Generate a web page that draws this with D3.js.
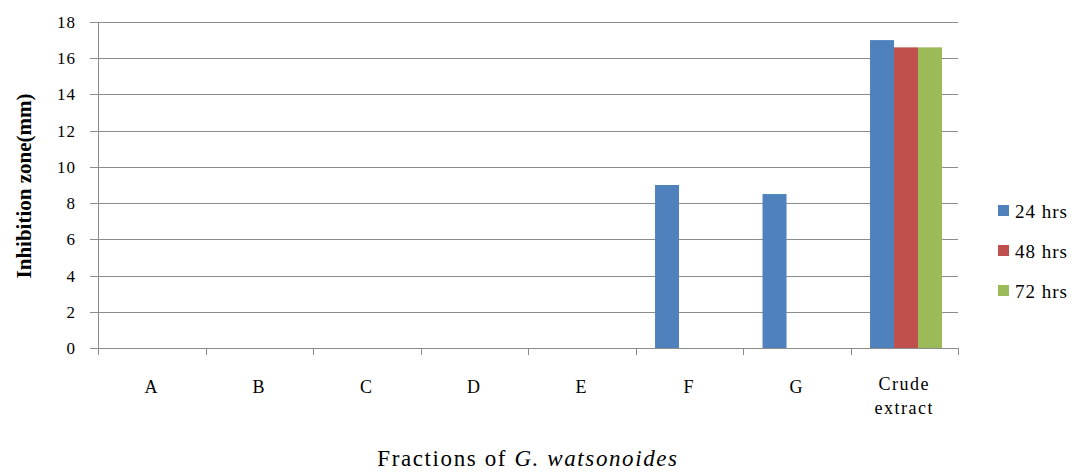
<!DOCTYPE html>
<html><head><meta charset="utf-8">
<script src="https://cdn.jsdelivr.net/npm/d3@7"></script>
<style>body{margin:0;background:#fff}svg{display:block}</style>
</head><body>
<svg id="c" width="1076" height="472"></svg>
<script>
const categories = ["A","B","C","D","E","F","G","Crude extract"];
const seriesNames = ["24 hrs","48 hrs","72 hrs"];
const hrs24 = [0,0,0,0,0,9,8.5,17];
const hrs48 = [0,0,0,0,0,0,0,16.6];
const hrs72 = [0,0,0,0,0,0,0,16.6];
const yTicks = [0,2,4,6,8,10,12,14,16,18];
const colors = ["#4f81bd","#c0504d","#9bbb59"];
const series = [hrs24,hrs48,hrs72];

const svg = d3.select("#c");
const L=98,R=958,T=22,B=348;
const x = d3.scaleBand().domain(categories).range([L,R]).paddingInner(0).paddingOuter(0);
const y = d3.scaleLinear().domain([0,18]).range([B,T]);
const inner = d3.scaleBand().domain(seriesNames).range([0,x.bandwidth()]).paddingInner(0).paddingOuter(0.74).align(0.55);
const font = "'Liberation Serif','DejaVu Serif',serif";

// gridlines
svg.append("g").selectAll("line").data(yTicks).join("line")
  .attr("x1",L-8).attr("x2",R).attr("y1",d=>Math.round(y(d))+0.5).attr("y2",d=>Math.round(y(d))+0.5)
  .attr("stroke","#8c8c8c").attr("stroke-width",1);
// y axis line
svg.append("line").attr("x1",L+0.5).attr("x2",L+0.5).attr("y1",T).attr("y2",B)
  .attr("stroke","#8c8c8c");
// y tick labels
svg.append("g").selectAll("text").data(yTicks).join("text")
  .attr("x",76).attr("y",d=>y(d)+6).attr("text-anchor","end")
  .attr("font-family",font).attr("font-size",17).attr("letter-spacing",1).attr("fill","#000").text(d=>d);

// bars
const g = svg.append("g");
series.forEach((s,si)=>{
  g.append("g").selectAll("rect").data(categories.map((c,i)=>({c,v:s[i]}))).join("rect")
    .attr("x",d=>x(d.c)+inner(seriesNames[si]))
    .attr("width",inner.bandwidth())
    .attr("y",d=>y(d.v)).attr("height",d=>B-y(d.v))
    .attr("fill",colors[si]);
});

// x axis
svg.append("line").attr("x1",L).attr("x2",R).attr("y1",B+0.5).attr("y2",B+0.5).attr("stroke","#8c8c8c");
const xt = categories.map(c=>x(c)).concat([R]);
svg.append("g").selectAll("line").data(xt).join("line")
  .attr("x1",d=>Math.round(d)+0.5).attr("x2",d=>Math.round(d)+0.5).attr("y1",B).attr("y2",B+7)
  .attr("stroke","#8c8c8c");
svg.append("g").selectAll("text").data(categories).join("text")
  .attr("x",d=>x(d)+x.bandwidth()/2).attr("y",d=>d.includes(" ")?390:393).attr("text-anchor","middle")
  .attr("font-family",font).attr("font-size",18).attr("letter-spacing",1.5).attr("fill","#000")
  .each(function(d){
    const parts=d.split(" ");
    const t=d3.select(this);
    parts.forEach((p,i)=>t.append("tspan").attr("x",x(d)+x.bandwidth()/2).attr("dy",i?24:0).text(p));
  });

// axis titles
svg.append("text").attr("transform","translate(31,186) rotate(-90)").attr("text-anchor","middle")
  .attr("font-family",font).attr("font-size",21).attr("font-weight","bold")
  .attr("fill","#000").text("Inhibition zone(mm)");
const xtitle = svg.append("text").attr("x",528).attr("y",466).attr("text-anchor","middle")
  .attr("font-family",font).attr("font-size",23).attr("letter-spacing",1.6).attr("fill","#000");
xtitle.append("tspan").text("Fractions of ");
xtitle.append("tspan").attr("font-style","italic").text("G. watsonoides");

// legend
const lg = svg.append("g");
seriesNames.forEach((n,i)=>{
  lg.append("rect").attr("x",998).attr("y",205+i*40).attr("width",11).attr("height",11).attr("fill",colors[i]);
  lg.append("text").attr("x",1015).attr("y",218+i*40).attr("font-family",font).attr("font-size",19)
    .attr("letter-spacing",1).attr("fill","#000").text(n);
});
</script>
</body></html>
